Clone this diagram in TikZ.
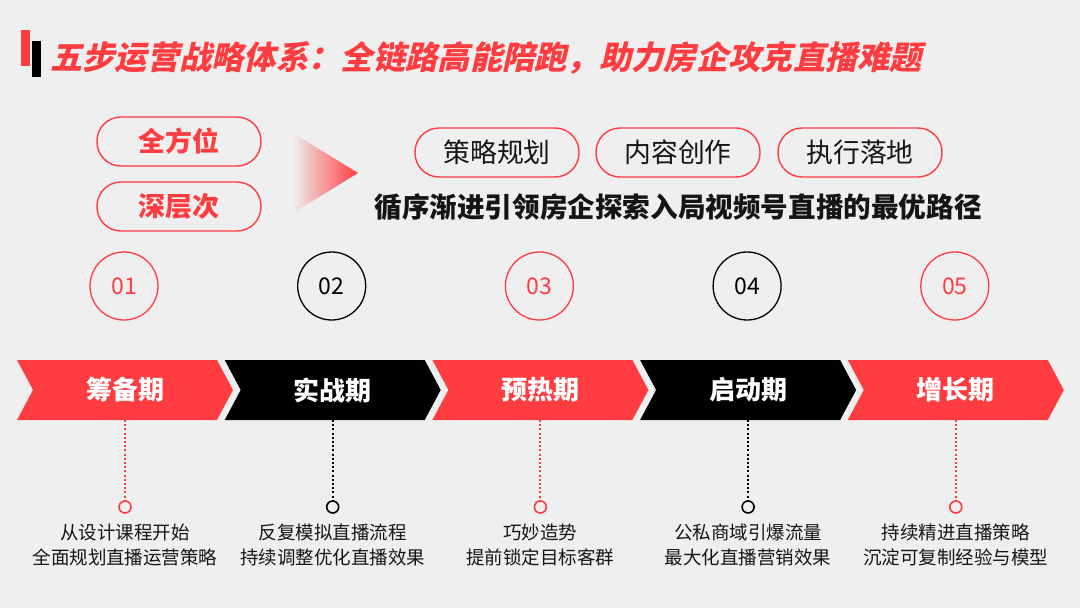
\documentclass[tikz,border=0pt]{standalone}
\usepackage{fontspec}
\setmainfont{Noto Sans CJK SC}
\newfontfamily\cjkit[FakeSlant=0.22]{Noto Sans CJK SC}
\definecolor{bg}{HTML}{EFEFEF}
\definecolor{myred}{HTML}{FF3C3F}
\definecolor{ink}{HTML}{151515}
\tikzset{
  pill/.style={draw=myred, line width=1.4pt, rounded corners=24pt, minimum width=164pt, minimum height=49pt, inner sep=0pt},
  numcirc/.style={circle, draw=#1, text=#1, line width=1.3pt, minimum size=68pt, inner sep=0pt, font=\fontsize{23}{23}\selectfont},
  chevlabel/.style={text=white, font=\fontsize{26}{26}\selectfont\bfseries, inner sep=0pt},
  dotline/.style={draw=#1, line width=2pt, dash pattern=on 2pt off 2.2pt},
  enddot/.style={circle, draw=#1, fill=bg, line width=1.6pt, minimum size=12pt, inner sep=0pt},
  desc/.style={text=ink, align=center, font=\fontsize{18.5}{25}\selectfont, inner sep=0pt}
}
\begin{document}
\begin{tikzpicture}[x=1pt,y=-1pt]
\fill[bg] (0,0) rectangle (1080,608);
\useasboundingbox (0,0) rectangle (1080,608);
% title bars
\fill[myred] (21,30) rectangle (30,66);
\fill[black] (32,41) rectangle (41,77);
\node[anchor=west, text=myred, inner sep=0pt, font=\cjkit\fontsize{32.3}{32.3}\selectfont\bfseries] (title) at (50,58) {五步运营战略体系：全链路高能陪跑，助力房企攻克直播难题};
% left pills
\node[pill, text=myred, font=\fontsize{27}{27}\selectfont\bfseries] (p1) at (179,141.5) {全方位};
\node[pill, text=myred, font=\fontsize{27}{27}\selectfont\bfseries] (p2) at (179,206.5) {深层次};
% gradient triangle
\shade[left color=bg, right color=myred] (293,133) -- (358,173) -- (293,213) -- cycle;
% top pills
\node[pill, text=ink, font=\fontsize{26.8}{26.8}\selectfont] (t1) at (497,152.5) {策略规划};
\node[pill, text=ink, font=\fontsize{26.8}{26.8}\selectfont] (t2) at (678,152.5) {内容创作};
\node[pill, text=ink, font=\fontsize{26.8}{26.8}\selectfont] (t3) at (860,152.5) {执行落地};
\node[text=ink, inner sep=0pt, font=\fontsize{27.6}{27.6}\selectfont\bfseries] (sub) at (678,207) {循序渐进引领房企探索入局视频号直播的最优路径};
% stages
\foreach \i/\lab/\col/\num/\la/\lb in {
  0/筹备期/myred/01/从设计课程开始/全面规划直播运营策略,
  1/实战期/black/02/反复模拟直播流程/持续调整优化直播效果,
  2/预热期/myred/03/巧妙造势/提前锁定目标客群,
  3/启动期/black/04/公私商域引爆流量/最大化直播营销效果,
  4/增长期/myred/05/持续精进直播策略/沉淀可复制经验与模型}{
  \pgfmathsetmacro{\L}{17+\i*207.7}
  \pgfmathsetmacro{\cx}{\L+108}
  \fill[\col] (\L,360) -- ({\L+200},360) -- ({\L+216},390) -- ({\L+200},420) -- (\L,420) -- ({\L+16},390) -- cycle;
  \node[numcirc=\col] (num\i) at ({\cx-1},286) {\num};
  \node[chevlabel] (ch\i) at (\cx,390) {\lab};
  \coordinate (chb\i) at (\cx,420);
  \node[enddot=\col] (dot\i) at (\cx,507) {};
  \draw[dotline=\col] (chb\i) -- (dot\i);
  \node[desc] (desc\i) at (\cx,544.5) {\la\\\lb};
}
\end{tikzpicture}
\end{document}
